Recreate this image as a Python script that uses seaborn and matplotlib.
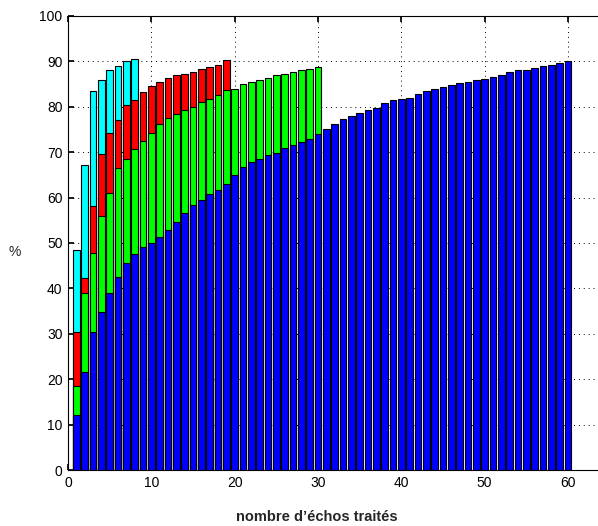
import pandas as pd
import seaborn as sns
import matplotlib.pyplot as plt

# valeurs (% en fonction du nombre d'échos traités)
cyan_vals = [48.5, 67.2, 83.4, 86.0, 88.2, 88.9, 90.0, 90.5]
red_vals = [30.3, 42.2, 58.1, 69.6, 74.3, 77.2, 80.3, 81.6, 83.2, 84.5,
            85.5, 86.4, 86.9, 87.2, 87.7, 88.4, 88.8, 89.3, 90.4]
green_vals = [18.6, 38.9, 47.7, 55.9, 61.1, 66.6, 68.5, 70.7, 72.4, 74.3,
              76.2, 77.6, 78.4, 79.4, 80.0, 81.1, 81.8, 82.6, 83.6, 84.0,
              85.0, 85.5, 85.9, 86.4, 86.9, 87.3, 87.7, 88.1, 88.3, 88.8]
blue_vals = [12.1, 21.6, 30.4, 34.7, 38.9, 42.6, 45.5, 47.5, 49.2, 49.9,
             51.4, 52.8, 54.7, 56.7, 58.3, 59.5, 60.7, 61.6, 63.1, 64.9,
             66.7, 67.8, 68.4, 69.3, 69.9, 71.0, 71.5, 72.2, 73.0, 74.1,
             75.2, 76.3, 77.3, 77.9, 78.7, 79.2, 79.7, 80.8, 81.5, 81.8,
             82.0, 82.9, 83.4, 84.0, 84.4, 84.9, 85.2, 85.5, 85.8, 86.2,
             86.6, 87.1, 87.6, 88.0, 88.2, 88.6, 89.0, 89.3, 89.7, 90.1]

series = ['cyan', 'red', 'green', 'blue']
colors = {'cyan': '#00ffff', 'red': '#ff0000', 'green': '#00ff00', 'blue': '#0000ff'}
xticks = [0, 10, 20, 30, 40, 50, 60]
yticks = [0, 10, 20, 30, 40, 50, 60, 70, 80, 90, 100]


def build_frame():
    rows = []
    for name, vals in zip(series, [cyan_vals, red_vals, green_vals, blue_vals]):
        for i, v in enumerate(vals):
            rows.append({'n': i + 1, 'pct': v, 'serie': name})
    return pd.DataFrame(rows)


def main():
    sns.set_theme(style='ticks')
    plt.rcParams['font.family'] = ['Liberation Sans', 'DejaVu Sans']

    df = build_frame()

    fig = plt.figure(figsize=(5.98, 5.26), dpi=100)
    ax = fig.add_axes([68 / 598, 1 - 470 / 526, 530 / 598, 454 / 526])

    # les barres se superposent : cyan derrière, bleu devant
    sns.barplot(data=df, x='n', y='pct', hue='serie', hue_order=series,
                palette=colors, dodge=False, native_scale=True, width=0.8,
                edgecolor='black', linewidth=0.8, saturation=1,
                errorbar=None, legend=False, ax=ax)

    ax.set_xlim(0, 63.6)
    ax.set_ylim(0, 100)
    ax.set_xticks(xticks)
    ax.set_yticks(yticks)
    ax.grid(True, linestyle=(0, (1, 4)), color='black', linewidth=0.7)
    ax.set_axisbelow(True)
    ax.tick_params(direction='in', top=True, right=False, length=4,
                   labelsize=10, colors='black', pad=4)
    for sp in ax.spines.values():
        sp.set_color('black')
        sp.set_linewidth(0.8)
    # le cadre de droite est hors de l'image dans l'original
    ax.spines['right'].set_visible(False)

    ax.set_xlabel('nombre d’échos traités', fontsize=10.5, fontweight='bold',
                  va='center')
    ax.xaxis.set_label_coords(0.47, -0.103)
    ax.set_ylabel('%', rotation=0, fontsize=10, va='center', ha='center')
    ax.yaxis.set_label_coords(-0.1, 0.48)

    fig.savefig('out.png', dpi=100)


if __name__ == "__main__":
    main()
